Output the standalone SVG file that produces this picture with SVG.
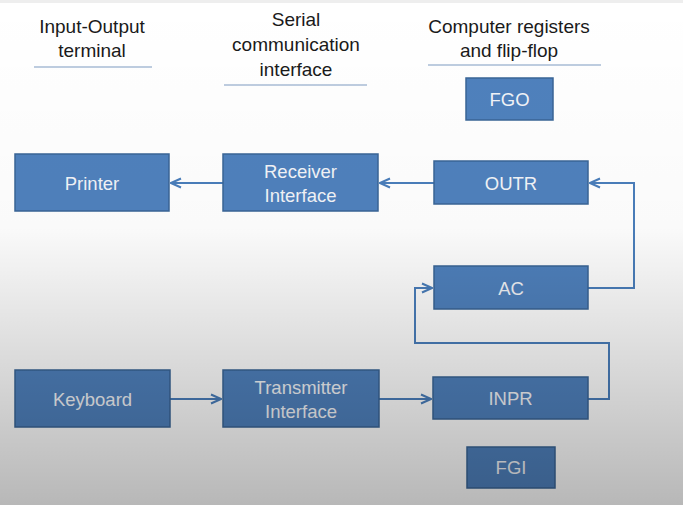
<svg xmlns="http://www.w3.org/2000/svg" width="683" height="505" viewBox="0 0 683 505">
<defs>
<linearGradient id="shade" x1="0" y1="0" x2="0" y2="1">
<stop offset="0" stop-color="#000" stop-opacity="0"/>
<stop offset="0.45" stop-color="#000" stop-opacity="0.02"/>
<stop offset="1" stop-color="#000" stop-opacity="0.28"/>
</linearGradient>
<marker id="arr" viewBox="0 0 12 12" refX="11" refY="6" markerWidth="12" markerHeight="12" markerUnits="userSpaceOnUse" orient="auto">
<path d="M1,1.5 L11,6 L1,10.5" fill="none" stroke="#4a7ebb" stroke-width="2"/>
</marker>
</defs>
<style>
.box{fill:#4f81bd;stroke:#3a6597;stroke-width:1.5}
.lbl{font-family:"Liberation Sans",Arial,sans-serif;font-size:18.5px;fill:#f2f4f8;text-anchor:middle}
.hdr{font-family:"Liberation Sans",Arial,sans-serif;font-size:19px;fill:#1a1a1a;text-anchor:middle}
.ul{stroke:#a9bcd6;stroke-width:1.5}
.con{fill:none;stroke:#4a7ebb;stroke-width:2}
</style>
<rect width="683" height="505" fill="#ffffff"/>
<rect width="683" height="3" fill="#eeeeee"/>
<g id="headers">
<text class="hdr" x="92" y="33">Input-Output</text>
<text class="hdr" x="92" y="57">terminal</text>
<line class="ul" x1="34" y1="67" x2="152" y2="67"/>
<text class="hdr" x="296" y="26">Serial</text>
<text class="hdr" x="296" y="51">communication</text>
<text class="hdr" x="296" y="76">interface</text>
<line class="ul" x1="224" y1="85" x2="367" y2="85"/>
<text class="hdr" x="509" y="33">Computer registers</text>
<text class="hdr" x="509" y="57">and flip-flop</text>
<line class="ul" x1="428" y1="65" x2="601" y2="65"/>
</g>
<g id="connectors">
<line class="con" x1="434" y1="183" x2="380" y2="183" marker-end="url(#arr)"/>
<line class="con" x1="223" y1="183" x2="171" y2="183" marker-end="url(#arr)"/>
<polyline class="con" points="588,288 634,288 634,183 590,183" marker-end="url(#arr)"/>
<polyline class="con" points="588,399 609,399 609,343 415,343 415,288 432,288" marker-end="url(#arr)"/>
<line class="con" x1="170" y1="399" x2="221" y2="399" marker-end="url(#arr)"/>
<line class="con" x1="379" y1="399" x2="431" y2="399" marker-end="url(#arr)"/>
</g>
<g id="fgo"><rect class="box" x="466" y="78" width="87" height="42"/><text class="lbl" x="509.5" y="106">FGO</text></g>
<g id="printer"><rect class="box" x="15" y="154" width="154" height="57"/><text class="lbl" x="92" y="190">Printer</text></g>
<g id="receiver"><rect class="box" x="223" y="154" width="155" height="57"/><text class="lbl" x="300.5" y="178">Receiver</text><text class="lbl" x="300.5" y="202">Interface</text></g>
<g id="outr"><rect class="box" x="434" y="161" width="154" height="43"/><text class="lbl" x="511" y="190">OUTR</text></g>
<g id="ac"><rect class="box" x="434" y="266" width="154" height="43"/><text class="lbl" x="511" y="295">AC</text></g>
<g id="keyboard"><rect class="box" x="15" y="370" width="155" height="57"/><text class="lbl" x="92.5" y="406">Keyboard</text></g>
<g id="transmitter"><rect class="box" x="223" y="370" width="156" height="57"/><text class="lbl" x="301" y="394">Transmitter</text><text class="lbl" x="301" y="418">Interface</text></g>
<g id="inpr"><rect class="box" x="433" y="377" width="155" height="42"/><text class="lbl" x="510.5" y="405">INPR</text></g>
<g id="fgi"><rect class="box" x="467" y="447" width="88" height="41"/><text class="lbl" x="511" y="474">FGI</text></g>
<rect width="683" height="505" fill="url(#shade)" pointer-events="none"/>
</svg>
